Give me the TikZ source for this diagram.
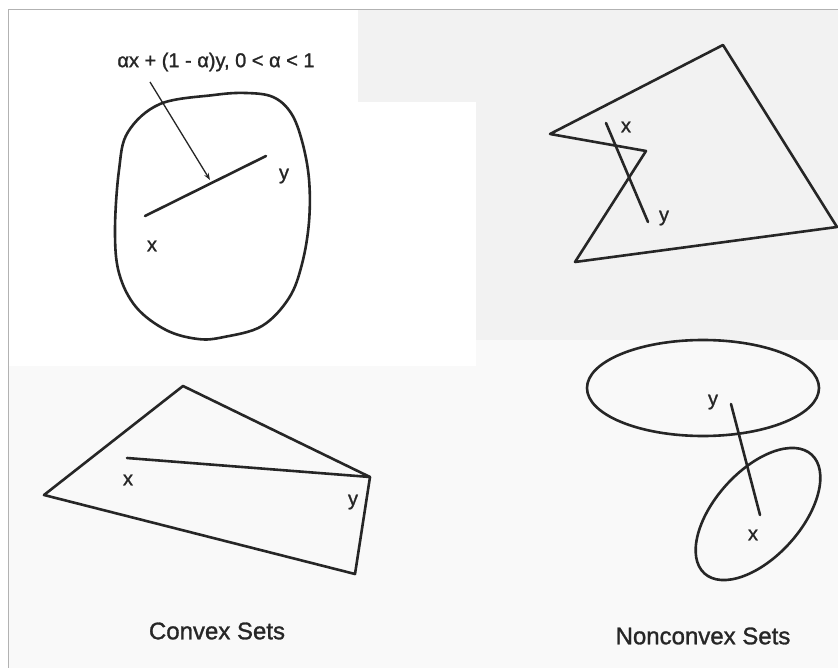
\documentclass[tikz,border=0pt]{standalone}
\usepackage{fontspec}
\setmainfont{Liberation Sans}
\newfontfamily\heavysans[FakeBold=1.2]{Liberation Sans}
\usetikzlibrary{arrows.meta}
\begin{document}
\begin{tikzpicture}[x=1pt,y=-1pt,
  outline/.style={draw=black!85,line width=2.6pt,line join=round},
  seg/.style={draw=black!85,line width=2.6pt,line cap=round},
  lbl/.style={text=black!85,font=\heavysans\fontsize{20}{22}\selectfont,inner sep=0pt},
  captxt/.style={text=black!85,font=\heavysans\fontsize{24}{26}\selectfont,inner sep=0pt}]
\useasboundingbox (0,0) rectangle (838,668);
\fill[white] (0,0) rectangle (838,668);
\fill[black!2.5] (8,10) rectangle (838,668);
\fill[black!5] (358,10) rectangle (838,102);
\fill[black!5] (476,102) rectangle (838,340);
\fill[white] (8,10) rectangle (358,366);
\fill[white] (358,102) rectangle (476,366);
\draw[black!30,line width=1pt] (8,668) -- (8,10) -- (838,10);
% convex blob
\draw[outline] plot[smooth cycle,tension=0.6] coordinates {(160,104) (214,95) (246,93) (273,97) (291,113) (302,141) (309,179) (309,222) (302,264) (289,298) (262,326) (224,337) (198,339) (166,330) (136,307) (119,273) (115,230) (119,170) (128,132)};
\coordinate (bx) at (145,216);
\coordinate (by) at (266,156);
\draw[seg] (bx) -- (by);
\node[lbl] (lbx) at (152,246) {x};
\node[lbl] (lby) at (284,176) {y};
\node[lbl] (formula) at (216,62) {αx + (1 - α)y,  0 < α < 1};
\coordinate (tip) at (210,180);
\draw[black!85,line width=1.3pt,-{Stealth[length=7pt,width=5pt]}] (150,82) -- (tip);
% convex quadrilateral
\coordinate (q1) at (183,386);
\coordinate (q2) at (370,477);
\coordinate (q3) at (355,574);
\coordinate (q4) at (44,495);
\draw[outline] (q1) -- (q2) -- (q3) -- (q4) -- cycle;
\coordinate (qx) at (127,458);
\draw[seg] (qx) -- (q2);
\node[lbl] (lqx) at (128,480) {x};
\node[lbl] (lqy) at (353,502) {y};
% nonconvex polygon
\coordinate (p1) at (550,134);
\coordinate (p2) at (723,45);
\coordinate (p3) at (837,227);
\coordinate (p4) at (575,262);
\coordinate (p5) at (646,151);
\draw[outline] (p1) -- (p2) -- (p3) -- (p4) -- (p5) -- cycle;
\coordinate (px) at (606,123);
\coordinate (py) at (648,222);
\draw[seg] (px) -- (py);
\node[lbl] (lpx) at (626,127) {x};
\node[lbl] (lpy) at (664,218) {y};
% ellipses
\draw[outline] (703,388) ellipse [x radius=116,y radius=48];
\draw[outline,rotate around={48:(758,514)}] (758,514) ellipse [x radius=80,y radius=43];
\coordinate (ey) at (731,404);
\coordinate (ex) at (760,515);
\draw[seg] (ey) -- (ex);
\node[lbl] (ley) at (713,402) {y};
\node[lbl] (lex) at (753,535) {x};
% captions
\node[captxt] (c1) at (217,631) {Convex Sets};
\node[captxt] (c2) at (703,636) {Nonconvex Sets};
\end{tikzpicture}
\end{document}
